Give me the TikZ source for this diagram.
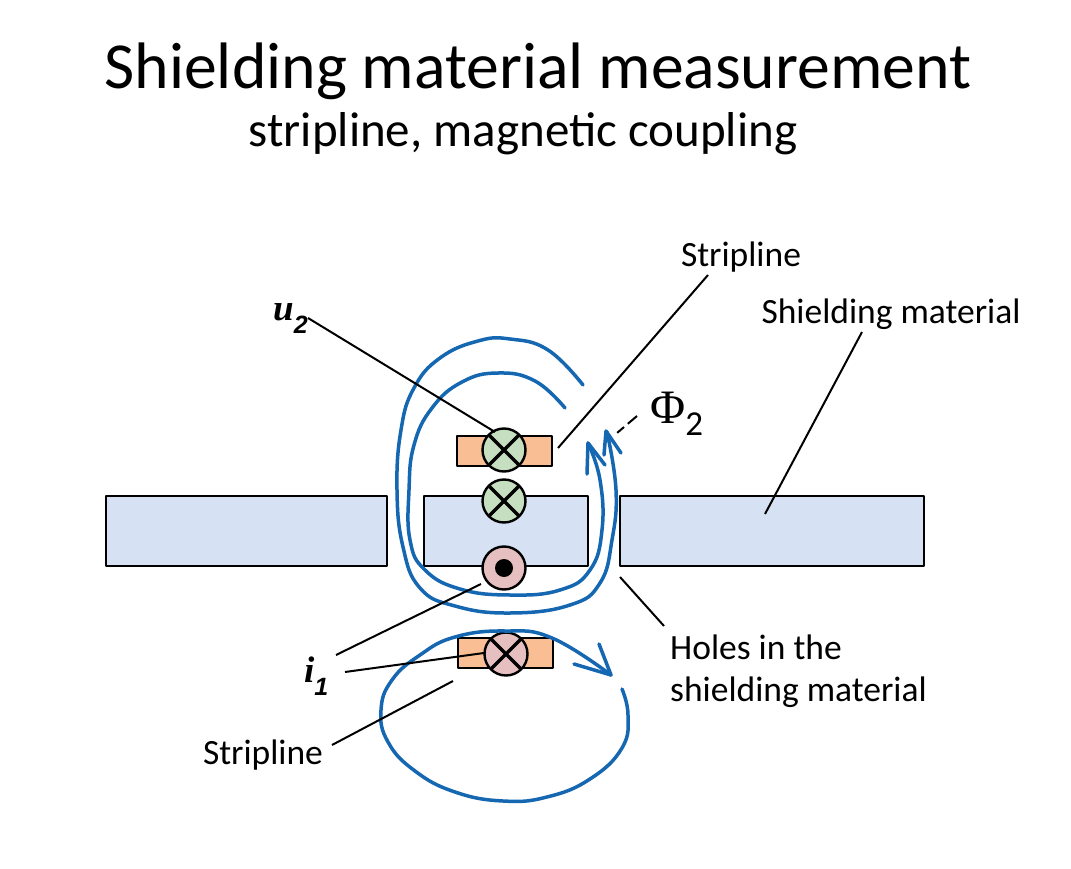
\documentclass[tikz,border=0pt]{standalone}
\usepackage{fontspec}
\setmainfont{Carlito}
\newfontfamily\serifi{Liberation Serif}
\newfontfamily\sansi{Liberation Sans}
\definecolor{shield}{HTML}{D6E2F3}
\definecolor{strip}{HTML}{F9BE93}
\definecolor{cgreen}{HTML}{C5DFC0}
\definecolor{cpink}{HTML}{E6BFC0}
\definecolor{flux}{HTML}{1467B0}
\usetikzlibrary{calc}
\tikzset{
  shieldbox/.style={draw=black,line width=2.8pt,fill=shield,line join=round},
  stripbox/.style={draw=black,line width=2.8pt,fill=strip,line join=round},
  wire/.style={circle,draw=black,line width=2.4pt,minimum size=43pt,inner sep=0pt},
  fluxline/.style={draw=flux,line width=3.5pt,line cap=round,line join=round},
  leader/.style={draw=black,line width=2pt},
  lbl/.style={font=\fontsize{35.5}{42}\selectfont,inner sep=0pt,align=left},
  sym/.style={font=\fontsize{37}{42}\selectfont\serifi\bfseries\itshape,inner sep=0pt},
}
\newcommand{\crossmark}[1]{\draw[black,line width=3.4pt] ($(#1)+(-14.5,-14.5)$) -- ($(#1)+(14.5,14.5)$) ($(#1)+(14.5,-14.5)$) -- ($(#1)+(-14.5,14.5)$);}
\newcommand{\subsc}[1]{\raisebox{-13pt}{\fontsize{25}{25}\selectfont\sansi\bfseries\itshape #1}}
\begin{document}
\begin{tikzpicture}[x=1pt,y=-1pt]
\useasboundingbox (0,0) rectangle (1071,869);
\fill[white] (0,0) rectangle (1071,869);
\node[inner sep=0pt,font=\fontsize{65.7}{72}\selectfont] (title) at (538,71) {Shielding material measurement};
\node[inner sep=0pt,font=\fontsize{49}{56}\selectfont] (subtitle) at (523,134) {stripline, magnetic coupling};

\draw[shieldbox] (106,496) rectangle (387,566);
\draw[shieldbox] (424,496) rectangle (588,566);
\draw[shieldbox] (620,496) rectangle (924,566);
\draw[stripbox] (457,436) rectangle (552,466);
\draw[stripbox] (458,638) rectangle (553,668);

\node[wire,fill=cgreen] (u1) at (504,450) {};
\node[wire,fill=cgreen] (u3) at (504,501) {};
\node[wire,fill=cpink] (i2) at (504,568) {};
\fill[black] (i2) circle (9);
\node[wire,fill=cpink] (i3) at (506,654) {};
\crossmark{u1}\crossmark{u3}\crossmark{i3}

% flux lines
\draw[fluxline] plot[smooth,tension=0.75] coordinates {(583,385) (548,350) (510,339) (478,341) (440,358) (414,388) (401,430) (397,490) (403,547) (420,588) (455,606) (510,613) (570,605) (600,583) (612,540) (616,490) (607,432)};
\draw[fluxline] plot[smooth,tension=0.75] coordinates {(565,408) (535,381) (498,373) (462,382) (432,408) (414,445) (409,490) (410,540) (425,570) (460,589) (510,595) (560,590) (590,570) (602,530) (600,480) (588,443)};
\draw[fluxline] (587,474) -- (588,443) -- (605,465);
\draw[fluxline] (604,455) -- (606,431) -- (621,453);
\draw[fluxline] plot[smooth,tension=0.75] coordinates {(622,689) (628,715) (622,748) (590,779) (547,797) (503,801) (455,792) (415,771) (388,742) (381,710) (392,680) (420,655) (455,637) (505,631) (552,638) (611,675)};
\draw[fluxline] (599,644) -- (611,675) -- (574,664);

% labels
\node[lbl] (stripA) at (741,257) {Stripline};
\node[lbl] (shieldL) at (891,314) {Shielding material};
\node[lbl,anchor=west] (holes) at (670,672) {\begin{tabular}{@{}l@{}}Holes in the\\[0pt]shielding material\end{tabular}};
\node[lbl] (stripB) at (263,755) {Stripline};
\node[sym,anchor=west] (u2) at (273,319) {u\subsc{2}};
\node[sym,anchor=west] (i1) at (304,676) {i\subsc{1}};
\node[inner sep=0pt,anchor=west,font=\fontsize{48}{54}\selectfont] (phi) at (650,414) {{\serifi Φ}\raisebox{-12pt}{\fontsize{35}{35}\selectfont 2}};

% leaders
\coordinate (au) at (308,318);
\coordinate (bu) at (495,432);
\coordinate (as) at (708,275);
\coordinate (bs) at (558,448);
\coordinate (ash) at (862,332);
\coordinate (bsh) at (765,514);
\coordinate (ap) at (637,416);
\coordinate (bp) at (617,433);
\coordinate (ai) at (336,655);
\coordinate (bi) at (481,584);
\coordinate (ai2) at (345,672);
\coordinate (bi2) at (484,653);
\coordinate (asb) at (332,745);
\coordinate (bsb) at (453,681);
\coordinate (ah) at (664,626);
\coordinate (bh) at (620,577);
\draw[leader] (au) -- (bu);
\draw[leader] (as) -- (bs);
\draw[leader] (ash) -- (bsh);
\draw[leader,dash pattern=on 12pt off 5pt on 9pt off 4pt] (ap) -- (bp);
\draw[leader] (ai) -- (bi);
\draw[leader] (ai2) -- (bi2);
\draw[leader] (asb) -- (bsb);
\draw[leader] (ah) -- (bh);
\end{tikzpicture}
\end{document}
